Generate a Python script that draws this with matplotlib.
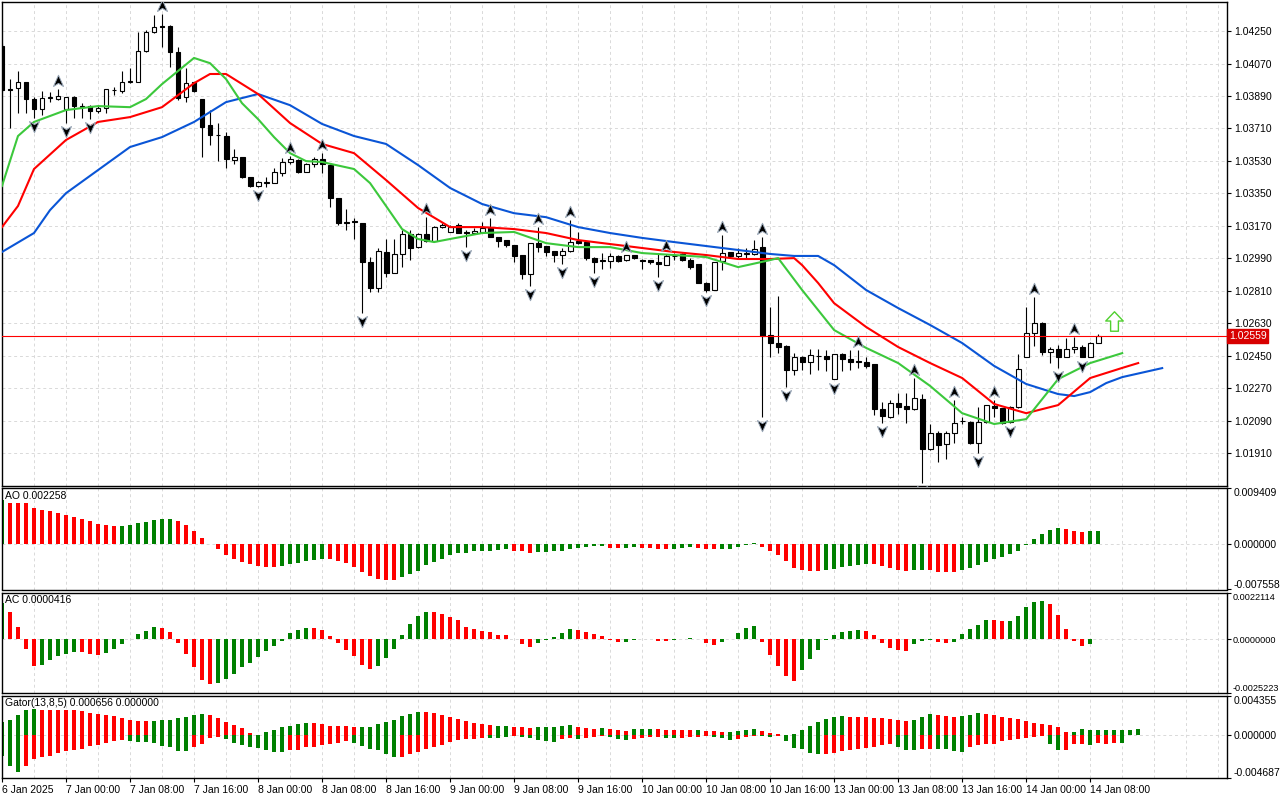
import numpy as np
import matplotlib.pyplot as plt
from matplotlib.path import Path

plt.rcParams['font.family'] = ['Liberation Sans', 'DejaVu Sans']

# EURUSD H1, 6 Jan 16:00 .. 14 Jan 09:00
opens = [1.04167, 1.03928, 1.03934, 1.03967, 1.03873, 1.03817, 1.03879, 1.03873, 1.03817, 1.03884,
         1.03834, 1.03834, 1.03806, 1.03823, 1.03921, 1.03917, 1.03967, 1.03967, 1.04139, 1.04244,
         1.04278, 1.04276, 1.04134, 1.03884, 1.03967, 1.03873, 1.03729, 1.03675, 1.03668, 1.03535,
         1.03551, 1.03440, 1.03390, 1.03407, 1.03407, 1.03462, 1.03524, 1.03535, 1.03468, 1.03513,
         1.03540, 1.03507, 1.03324, 1.03191, 1.03196, 1.03185, 1.02969, 1.02825, 1.03025, 1.02908,
         1.03014, 1.03125, 1.03053, 1.03125, 1.03086, 1.03163, 1.03136, 1.03174, 1.03136, 1.03130,
         1.03136, 1.03158, 1.03108, 1.03091, 1.03063, 1.03008, 1.02903, 1.03075, 1.03058, 1.03030,
         1.03008, 1.03030, 1.03086, 1.03080, 1.02991, 1.02980, 1.02975, 1.03002, 1.02980, 1.03008,
         1.02980, 1.02980, 1.02969, 1.02953, 1.03004, 1.03014, 1.02980, 1.02958, 1.02853, 1.02814,
         1.02975, 1.03025, 1.03002, 1.03014, 1.03014, 1.03052, 1.02564, 1.02520, 1.02503, 1.02370,
         1.02442, 1.02415, 1.02450, 1.02448, 1.02320, 1.02459, 1.02431, 1.02420, 1.02415, 1.02403,
         1.02154, 1.02110, 1.02187, 1.02171, 1.02154, 1.02209, 1.01932, 1.02021, 1.01960, 1.02021,
         1.02087, 1.02082, 1.01966, 1.02082, 1.02171, 1.02159, 1.02082, 1.02165, 1.02442, 1.02575,
         1.02631, 1.02470, 1.02486, 1.02442, 1.02486, 1.02498, 1.02442, 1.02520]
highs = [1.04183, 1.03984, 1.04028, 1.03970, 1.03884, 1.03917, 1.03912, 1.03928, 1.03886, 1.03890,
         1.03850, 1.03839, 1.03839, 1.03930, 1.03939, 1.04028, 1.04045, 1.04244, 1.04258, 1.04338,
         1.04344, 1.04283, 1.04161, 1.04045, 1.03970, 1.03876, 1.03812, 1.03740, 1.03690, 1.03596,
         1.03553, 1.03442, 1.03418, 1.03440, 1.03491, 1.03546, 1.03557, 1.03540, 1.03518, 1.03551,
         1.03573, 1.03513, 1.03326, 1.03263, 1.03213, 1.03187, 1.02997, 1.03047, 1.03097, 1.03097,
         1.03147, 1.03147, 1.03130, 1.03219, 1.03169, 1.03185, 1.03174, 1.03185, 1.03147, 1.03158,
         1.03191, 1.03213, 1.03110, 1.03093, 1.03065, 1.03010, 1.03077, 1.03163, 1.03060, 1.03032,
         1.03047, 1.03202, 1.03136, 1.03082, 1.02997, 1.03019, 1.03019, 1.03008, 1.03010, 1.03010,
         1.02986, 1.02982, 1.03019, 1.03014, 1.03019, 1.03019, 1.02991, 1.02960, 1.02858, 1.02971,
         1.03119, 1.03027, 1.03047, 1.03047, 1.03091, 1.03108, 1.02719, 1.02781, 1.02509, 1.02464,
         1.02448, 1.02486, 1.02486, 1.02481, 1.02461, 1.02464, 1.02481, 1.02481, 1.02442, 1.02405,
         1.02193, 1.02204, 1.02242, 1.02242, 1.02326, 1.02237, 1.02071, 1.02032, 1.02032, 1.02204,
         1.02110, 1.02087, 1.02165, 1.02178, 1.02204, 1.02161, 1.02171, 1.02459, 1.02719, 1.02775,
         1.02634, 1.02498, 1.02509, 1.02548, 1.02553, 1.02509, 1.02526, 1.02570]
lows = [1.03912, 1.03713, 1.03795, 1.03795, 1.03768, 1.03784, 1.03856, 1.03867, 1.03740, 1.03768,
        1.03768, 1.03762, 1.03795, 1.03795, 1.03895, 1.03906, 1.03961, 1.03965, 1.04135, 1.04238,
        1.04161, 1.04050, 1.03867, 1.03856, 1.03912, 1.03551, 1.03618, 1.03529, 1.03491, 1.03513,
        1.03435, 1.03385, 1.03385, 1.03385, 1.03405, 1.03446, 1.03513, 1.03462, 1.03466, 1.03496,
        1.03462, 1.03274, 1.03174, 1.03147, 1.03097, 1.02686, 1.02803, 1.02803, 1.02886, 1.02906,
        1.02942, 1.02980, 1.03045, 1.03080, 1.03080, 1.03158, 1.03134, 1.03130, 1.03052, 1.03125,
        1.03130, 1.03108, 1.03052, 1.03052, 1.02969, 1.02875, 1.02836, 1.03025, 1.03002, 1.02969,
        1.02958, 1.03025, 1.03069, 1.02980, 1.02908, 1.02930, 1.02936, 1.02969, 1.02975, 1.02986,
        1.02930, 1.02958, 1.02886, 1.02951, 1.02980, 1.02975, 1.02930, 1.02853, 1.02803, 1.02812,
        1.02925, 1.02991, 1.02991, 1.02991, 1.03008, 1.02110, 1.02442, 1.02464, 1.02276, 1.02342,
        1.02370, 1.02348, 1.02370, 1.02364, 1.02318, 1.02364, 1.02370, 1.02381, 1.02381, 1.02120,
        1.02076, 1.02104, 1.02126, 1.02076, 1.02148, 1.01743, 1.01927, 1.01860, 1.01877, 1.01966,
        1.02071, 1.01960, 1.01910, 1.02076, 1.02110, 1.02071, 1.02076, 1.02159, 1.02440, 1.02503,
        1.02453, 1.02409, 1.02381, 1.02440, 1.02464, 1.02440, 1.02440, 1.02518]
closes = [1.03923, 1.03925, 1.03967, 1.03873, 1.03817, 1.03879, 1.03884, 1.03890, 1.03884, 1.03834,
          1.03828, 1.03806, 1.03823, 1.03928, 1.03926, 1.03967, 1.03972, 1.04139, 1.04244, 1.04272,
          1.04275, 1.04134, 1.03879, 1.03961, 1.03917, 1.03718, 1.03673, 1.03671, 1.03540, 1.03551,
          1.03440, 1.03390, 1.03413, 1.03413, 1.03468, 1.03524, 1.03540, 1.03468, 1.03513, 1.03540,
          1.03513, 1.03324, 1.03185, 1.03185, 1.03191, 1.02969, 1.02825, 1.03030, 1.02908, 1.03014,
          1.03125, 1.03047, 1.03125, 1.03086, 1.03163, 1.03174, 1.03163, 1.03130, 1.03128, 1.03141,
          1.03158, 1.03108, 1.03086, 1.03063, 1.03002, 1.02903, 1.03075, 1.03052, 1.03025, 1.03008,
          1.03030, 1.03080, 1.03075, 1.02991, 1.02969, 1.02975, 1.03002, 1.02975, 1.03008, 1.02991,
          1.02977, 1.02969, 1.02958, 1.03002, 1.03000, 1.02980, 1.02942, 1.02853, 1.02814, 1.02969,
          1.03019, 1.03002, 1.03019, 1.03021, 1.03041, 1.02559, 1.02520, 1.02498, 1.02370, 1.02442,
          1.02415, 1.02453, 1.02446, 1.02431, 1.02459, 1.02431, 1.02415, 1.02413, 1.02392, 1.02154,
          1.02115, 1.02187, 1.02165, 1.02154, 1.02215, 1.01932, 1.02021, 1.01955, 1.02021, 1.02076,
          1.02085, 1.01966, 1.02082, 1.02176, 1.02159, 1.02076, 1.02165, 1.02376, 1.02575, 1.02631,
          1.02470, 1.02486, 1.02442, 1.02486, 1.02498, 1.02442, 1.02520, 1.02559]

# alligator lines (already shifted forward), read every few bars
jaw_bars = [0, 4, 6, 8, 12, 16, 20, 24, 28, 32, 36, 40, 44, 48, 52, 56, 60, 64, 68, 72, 76,
            80, 84, 88, 92, 96, 99, 102, 104, 108, 112, 116, 120, 124, 128, 132, 134, 136, 138, 140, 145]
jaw_vals = [1.03025, 1.03130, 1.03257, 1.03351, 1.03479, 1.03607, 1.03662, 1.03746, 1.03856, 1.03901,
            1.03839, 1.03735, 1.03668, 1.03624, 1.03507, 1.03380, 1.03291, 1.03240, 1.03218, 1.03163,
            1.03130, 1.03103, 1.03080, 1.03058, 1.03036, 1.03014, 1.03003, 1.03003, 1.02952, 1.02814,
            1.02714, 1.02620, 1.02520, 1.02393, 1.02293, 1.02237, 1.02226, 1.02248, 1.02298, 1.02331, 1.02381]
teeth_bars = [0, 2, 4, 8, 12, 16, 20, 24, 26, 28, 32, 36, 40, 44, 48, 52, 56, 60, 64, 68, 72,
              76, 80, 84, 88, 92, 96, 99, 100, 102, 104, 108, 112, 116, 120, 124, 128, 132, 136, 140, 142]
teeth_vals = [1.03163, 1.03280, 1.03485, 1.03646, 1.03746, 1.03773, 1.03828, 1.03961, 1.04012, 1.04012,
              1.03901, 1.03740, 1.03624, 1.03573, 1.03424, 1.03269, 1.03163, 1.03163, 1.03152, 1.03130,
              1.03091, 1.03069, 1.03047, 1.03025, 1.03008, 1.02986, 1.02986, 1.02991, 1.02952, 1.02853,
              1.02741, 1.02609, 1.02498, 1.02409, 1.02326, 1.02182, 1.02131, 1.02176, 1.02326, 1.02382, 1.02409]
lips_bars = [0, 2, 4, 8, 12, 16, 18, 20, 24, 26, 28, 30, 32, 34, 36, 38, 40, 44, 46, 48, 50, 52, 54,
             56, 60, 64, 68, 72, 76, 80, 84, 88, 92, 96, 97, 100, 104, 108, 112, 116, 120, 124, 128,
             132, 136, 140]
lips_vals = [1.03391, 1.03668, 1.03746, 1.03812, 1.03834, 1.03828, 1.03873, 1.03956, 1.04101, 1.04072,
             1.03984, 1.03850, 1.03762, 1.03662, 1.03573, 1.03529, 1.03524, 1.03485, 1.03407, 1.03280,
             1.03152, 1.03097, 1.03080, 1.03097, 1.03130, 1.03136, 1.03074, 1.03052, 1.03052, 1.03019,
             1.03008, 1.02997, 1.02941, 1.02980, 1.02991, 1.02814, 1.02592, 1.02493, 1.02409, 1.02282,
             1.02131, 1.02071, 1.02098, 1.02320, 1.02409, 1.02464]

fractal_up = [7, 20, 36, 40, 53, 61, 67, 71, 78, 83, 90, 95, 107, 114, 119, 124, 129, 134]
fractal_down = [4, 8, 11, 32, 45, 58, 66, 70, 74, 82, 88, 95, 98, 104, 110, 115, 122, 126, 132, 135]
signal_bar, signal_price = 139, 1.02645
last_price = 1.02559

price_ticks = [1.04250, 1.04070, 1.03890, 1.03710, 1.03530, 1.03350, 1.03170,
               1.02990, 1.02810, 1.02630, 1.02450, 1.02270, 1.02090, 1.01910]

ao = [0.00743, 0.00698, 0.00696, 0.00695, 0.00599, 0.00566, 0.00549, 0.00516, 0.00483, 0.00450,
      0.00417, 0.00384, 0.00335, 0.00318, 0.00302, 0.00304, 0.00318, 0.00351, 0.00368, 0.00401,
      0.00417, 0.00419, 0.00384, 0.00318, 0.00219, 0.00104, 0.00012, -0.00083, -0.00177, -0.00252,
      -0.00292, -0.00335, -0.00368, -0.00384, -0.00386, -0.00368, -0.00335, -0.00318, -0.00285, -0.00269,
      -0.00252, -0.00254, -0.00285, -0.00318, -0.00384, -0.00467, -0.00533, -0.00582, -0.00599, -0.00601,
      -0.00549, -0.00500, -0.00450, -0.00351, -0.00302, -0.00252, -0.00186, -0.00153, -0.00152, -0.00120,
      -0.00119, -0.00104, -0.00102, -0.00087, -0.00104, -0.00120, -0.00153, -0.00137, -0.00135, -0.00120,
      -0.00104, -0.00071, -0.00054, -0.00038, -0.00037, -0.00036, -0.00054, -0.00056, -0.00054, -0.00053,
      -0.00054, -0.00056, -0.00071, -0.00073, -0.00071, -0.00054, -0.00053, -0.00054, -0.00071, -0.00087,
      -0.00086, -0.00071, -0.00038, -0.00012, 0.00017, -0.00038, -0.00104, -0.00186, -0.00285, -0.00401,
      -0.00434, -0.00450, -0.00452, -0.00434, -0.00417, -0.00384, -0.00368, -0.00351, -0.00335, -0.00337,
      -0.00368, -0.00401, -0.00434, -0.00450, -0.00434, -0.00432, -0.00434, -0.00467, -0.00469, -0.00470,
      -0.00434, -0.00401, -0.00351, -0.00302, -0.00252, -0.00219, -0.00170, -0.00104, -0.00012, 0.00094,
      0.00170, 0.00243, 0.00269, 0.00259, 0.00226, 0.00210, 0.00218, 0.002258]
ac = [0.00172, 0.00128, 0.000577, -0.000469, -0.00125, -0.00121, -0.000971, -0.000783, -0.000689, -0.000596,
      -0.000600, -0.000689, -0.000736, -0.000643, -0.000455, -0.000220, 0.000014, 0.000249, 0.000389, 0.000577,
      0.000530, 0.000342, -0.000155, -0.000689, -0.00130, -0.00191, -0.00210, -0.00205, -0.00186, -0.00163,
      -0.00130, -0.00111, -0.000830, -0.000549, -0.000314, -0.000080, 0.000295, 0.000436, 0.000530, 0.000525,
      0.000436, 0.000155, -0.000155, -0.000502, -0.000783, -0.00121, -0.00139, -0.00125, -0.000877, -0.000455,
      0.000202, 0.000718, 0.00109, 0.00128, 0.00127, 0.00119, 0.00105, 0.000905, 0.000577, 0.000483,
      0.000389, 0.000342, 0.000202, 0.000197, 0.000010, -0.000202, -0.000342, -0.000155, -0.000033, 0.000108,
      0.000295, 0.000483, 0.000436, 0.000342, 0.000249, 0.000155, -0.000014, -0.000108, -0.000103, -0.000014,
      0.000009, 0.000005, -0.000061, -0.000066, -0.000014, 0.000033, 0.000047, 0.000014, -0.000155, -0.000267,
      -0.000108, 0.000033, 0.000295, 0.000530, 0.000624, -0.000108, -0.000718, -0.00125, -0.00172, -0.00196,
      -0.00144, -0.000924, -0.000502, -0.000014, 0.000202, 0.000342, 0.000389, 0.000436, 0.000389, 0.000202,
      -0.000155, -0.000408, -0.000502, -0.000549, -0.000220, -0.000061, -0.000014, -0.000108, -0.000155, -0.000108,
      0.000249, 0.000483, 0.000671, 0.000905, 0.000900, 0.000858, 0.000863, 0.00109, 0.00151, 0.00175,
      0.00180, 0.00166, 0.00114, 0.000483, -0.000061, -0.000295, -0.000202, 0.0000416]

gator_up = [0.00143, 0.00169, 0.00224, 0.00279, 0.00290, 0.00279, 0.00278, 0.00277, 0.00276, 0.00275,
            0.00261, 0.00246, 0.00235, 0.00224, 0.00213, 0.00191, 0.00169, 0.00158, 0.00157, 0.00158,
            0.00169, 0.00170, 0.00191, 0.00202, 0.00224, 0.00235, 0.00224, 0.00191, 0.00147, 0.00114,
            0.00074, 0.00025, 0.00003, 0.00030, 0.00058, 0.00085, 0.00103, 0.00125, 0.00136, 0.00135,
            0.00125, 0.00103, 0.00102, 0.00100, 0.00092, 0.00093, 0.00094, 0.00125, 0.00147, 0.00169,
            0.00213, 0.00235, 0.00257, 0.00256, 0.00246, 0.00224, 0.00202, 0.00180, 0.00158, 0.00136,
            0.00125, 0.00114, 0.00103, 0.00099, 0.00092, 0.00090, 0.00074, 0.00085, 0.00092, 0.00093,
            0.00103, 0.00114, 0.00092, 0.00081, 0.00069, 0.00081, 0.00069, 0.00058, 0.00047, 0.00069,
            0.00071, 0.00072, 0.00069, 0.00058, 0.00057, 0.00056, 0.00055, 0.00056, 0.00047, 0.00041,
            0.00030, 0.00036, 0.00047, 0.00058, 0.00069, 0.00047, 0.00025, 0.00014, 0.00008, 0.00009,
            0.00058, 0.00103, 0.00147, 0.00180, 0.00202, 0.00213, 0.00202, 0.00201, 0.00200, 0.00191,
            0.00190, 0.00180, 0.00169, 0.00158, 0.00169, 0.00202, 0.00228, 0.00224, 0.00213, 0.00202,
            0.00213, 0.00224, 0.00246, 0.00235, 0.00224, 0.00202, 0.00191, 0.00180, 0.00158, 0.00136,
            0.00125, 0.00114, 0.00085, 0.00030, 0.00036, 0.00069, 0.00058, 0.00052, 0.00055, 0.00057,
            0.00058, 0.00061, 0.000656]
gator_down = [-0.00224, -0.00334, -0.00400, -0.00334, -0.00261, -0.00243, -0.00228, -0.00195, -0.00173, -0.00162,
              -0.00151, -0.00118, -0.00107, -0.00081, -0.00066, -0.00052, -0.00058, -0.00074, -0.00077, -0.00088,
              -0.00114, -0.00132, -0.00169, -0.00170, -0.00125, -0.00096, -0.00033, -0.00019, -0.00036, -0.00085,
              -0.00103, -0.00129, -0.00136, -0.00158, -0.00180, -0.00181, -0.00158, -0.00157, -0.00125, -0.00124,
              -0.00103, -0.00092, -0.00081, -0.00063, -0.00088, -0.00121, -0.00151, -0.00162, -0.00206, -0.00235,
              -0.00234, -0.00206, -0.00184, -0.00147, -0.00125, -0.00107, -0.00069, -0.00047, -0.00046, -0.00036,
              -0.00025, -0.00026, -0.00028, -0.00014, -0.00003, -0.00014, -0.00025, -0.00047, -0.00058, -0.00069,
              -0.00036, -0.00035, -0.00036, -0.00025, -0.00024, -0.00011, -0.00014, -0.00036, -0.00047, -0.00036,
              -0.00025, -0.00024, -0.00023, -0.00025, -0.00026, -0.00025, -0.00024, -0.00014, -0.00003, -0.00014,
              -0.00025, -0.00047, -0.00046, -0.00014, -0.00003, -0.00004, -0.00014, -0.00013, -0.00058, -0.00136,
              -0.00147, -0.00191, -0.00202, -0.00201, -0.00191, -0.00169, -0.00158, -0.00147, -0.00136, -0.00125,
              -0.00103, -0.00101, -0.00125, -0.00158, -0.00159, -0.00147, -0.00146, -0.00147, -0.00148, -0.00169,
              -0.00180, -0.00125, -0.00103, -0.00101, -0.00092, -0.00058, -0.00052, -0.00036, -0.00025, -0.00014,
              -0.00013, -0.00092, -0.00158, -0.00157, -0.00092, -0.00093, -0.00103, -0.00081, -0.00092, -0.00085,
              -0.00085]
# gator bar colours as (colour, run length)
gator_up_runs = [("g", 5), ("r", 14), ("g", 7), ("r", 6), ("g", 7), ("r", 6), ("g", 8), ("r", 9), ("g", 2),
                 ("r", 3), ("g", 5), ("r", 3), ("g", 1), ("r", 3), ("g", 3), ("r", 5), ("g", 1), ("r", 3),
                 ("g", 4), ("r", 4), ("g", 7), ("r", 8), ("g", 3), ("r", 3), ("g", 3), ("r", 11), ("g", 9)]
gator_down_runs = [("g", 3), ("r", 13), ("g", 8), ("r", 4), ("g", 8), ("r", 8), ("g", 6), ("r", 11), ("g", 3),
                   ("r", 1), ("g", 5), ("r", 2), ("g", 1), ("r", 3), ("g", 3), ("r", 4), ("g", 2), ("r", 4),
                   ("g", 3), ("r", 3), ("g", 2), ("r", 1), ("g", 5), ("r", 9), ("g", 3), ("r", 2), ("g", 4),
                   ("r", 10), ("g", 2), ("r", 3), ("g", 1), ("r", 3), ("g", 1)]

time_labels = ["6 Jan 2025", "7 Jan 00:00", "7 Jan 08:00", "7 Jan 16:00", "8 Jan 00:00", "8 Jan 08:00",
               "8 Jan 16:00", "9 Jan 00:00", "9 Jan 08:00", "9 Jan 16:00", "10 Jan 00:00", "10 Jan 08:00",
               "10 Jan 16:00", "13 Jan 00:00", "13 Jan 08:00", "13 Jan 16:00", "14 Jan 00:00", "14 Jan 08:00"]

GREEN, RED = '#008000', '#ff0000'


def runs_to_colors(runs):
    out = []
    for c, n in runs:
        out += [GREEN if c == "g" else RED] * n
    return out


def trend_colors(vals):
    cols = [GREEN]
    for i in range(1, len(vals)):
        cols.append(GREEN if vals[i] > vals[i - 1] else RED)
    return cols


fig = plt.figure(figsize=(12.8, 8), dpi=100)


def panel(top, bottom):
    return fig.add_axes([1.5 / 1280, 1 - bottom / 800, 1225.5 / 1280, (bottom - top) / 800])


ax = panel(1.5, 485.5)
ax_ao = panel(488, 589.5)
ax_ac = panel(592.5, 693)
ax_g = panel(695.5, 778)

major = list(range(0, 137, 8))
minor = [k for k in range(0, 154, 4) if k not in major]
for a in (ax, ax_ao, ax_ac, ax_g):
    a.set_xlim(-0.06, 153.1)
    a.set_xticks(major)
    a.set_xticks(minor, minor=True)
    a.grid(axis='x', which='both', color='#d9d9d9', linestyle=(0, (3, 3)), linewidth=0.7)
    a.tick_params(axis='x', which='both', length=0, labelbottom=False)
    a.yaxis.tick_right()
    a.tick_params(axis='y', direction='out', length=3, width=0.8, labelsize=7.5, pad=2)
    for s in a.spines.values():
        s.set_linewidth(1.0)
    a.set_axisbelow(True)

# ---- price panel ----
x = np.arange(len(opens))
o, h, l, c = map(np.array, (opens, highs, lows, closes))
ax.vlines(x, l, h, color='black', linewidth=0.8, zorder=2)
body_lo = np.minimum(o, c)
body_h = np.maximum(np.abs(c - o), 0.00002)
ax.bar(x, body_h, bottom=body_lo, width=0.62,
       color=np.where(c >= o, 'white', 'black'), edgecolor='black', linewidth=0.8, zorder=3)

ax.plot(jaw_bars, jaw_vals, color='#0a55d6', linewidth=1.5, zorder=4)
ax.plot(teeth_bars, teeth_vals, color='#ff0000', linewidth=1.5, zorder=4)
ax.plot(lips_bars, lips_vals, color='#3cc83c', linewidth=1.5, zorder=4)

codes = [Path.MOVETO, Path.LINETO, Path.LINETO, Path.LINETO, Path.CLOSEPOLY]
up_mark = Path([(0, 1), (0.8, -0.8), (0, -0.3), (-0.8, -0.8), (0, 1)], codes)
down_mark = Path([(0, -1), (0.8, 0.8), (0, 0.3), (-0.8, 0.8), (0, -1)], codes)
gap = 0.00045
ax.plot(fractal_up, h[fractal_up] + gap, ls='none', marker=up_mark, ms=9,
        mfc='black', mec='#9aa8b8', mew=0.7, zorder=5)
ax.plot(fractal_down, l[fractal_down] - gap, ls='none', marker=down_mark, ms=9,
        mfc='black', mec='#9aa8b8', mew=0.7, zorder=5)

arrow = Path([(0, 1), (0.9, 0.05), (0.4, 0.05), (0.4, -1), (-0.4, -1), (-0.4, 0.05), (-0.9, 0.05), (0, 1)],
             [Path.MOVETO] + [Path.LINETO] * 6 + [Path.CLOSEPOLY])
ax.plot([signal_bar], [signal_price], marker=arrow, ms=14, mfc='white', mec='#50d030', mew=1.0, zorder=5)

ax.axhline(last_price, color='#ff0000', linewidth=0.8, zorder=4)
ax.set_ylim(1.01730, 1.04414)
ax.set_yticks(price_ticks, labels=['%.5f' % p for p in price_ticks])
ax.grid(axis='y', color='#d9d9d9', linestyle=(0, (3, 3)), linewidth=0.7)
ax.text(1.0015, last_price, '%.5f' % last_price, transform=ax.get_yaxis_transform(),
        ha='left', va='center', fontsize=7.5, color='white', clip_on=False, zorder=10,
        bbox=dict(boxstyle='square,pad=0.18', fc='#d80000', ec='#d80000'))


def sub_axis(a, lo, hi, fmt, label, size=7.5, pad=2):
    a.set_ylim(lo, hi)
    a.set_yticks([lo, 0, hi], labels=[fmt % lo, fmt % 0, fmt % hi])
    a.tick_params(axis='y', labelsize=size, pad=pad)
    tl = a.get_yticklabels()
    tl[0].set_va('bottom')
    tl[2].set_va('top')
    a.axhline(0, color='#d9d9d9', linestyle=(0, (3, 3)), linewidth=0.7, zorder=1)
    a.text(0.003, 0.975, label, transform=a.transAxes, ha='left', va='top', fontsize=7.5)


# ---- AO ----
xa = np.arange(len(ao))
ax_ao.bar(xa, ao, width=0.5, color=trend_colors(ao), linewidth=0, zorder=2)
sub_axis(ax_ao, -0.007558, 0.009409, '%.6f', 'AO %.6f' % ao[-1])

# ---- AC ----
ax_ac.bar(xa, ac, width=0.5, color=trend_colors(ac), linewidth=0, zorder=2)
sub_axis(ax_ac, -0.0025223, 0.0022114, '%.7f', 'AC %.7f' % ac[-1], size=6.6, pad=1)

# ---- Gator ----
ax_g.bar(np.arange(len(gator_up)), gator_up, width=0.55, color=runs_to_colors(gator_up_runs),
         linewidth=0, zorder=2)
ax_g.bar(np.arange(len(gator_down)), gator_down, width=0.55, color=runs_to_colors(gator_down_runs),
         linewidth=0, zorder=2)
sub_axis(ax_g, -0.004687, 0.004355, '%.6f', 'Gator(13,8,5) %.6f %.6f' % (gator_up[-1], 0.0))

ax_g.set_xticks(major, labels=time_labels)
ax_g.tick_params(axis='x', which='major', length=3, width=0.8, direction='out',
                 labelbottom=True, labelsize=7.5, pad=2)
for lbl in ax_g.get_xticklabels():
    lbl.set_ha('left')

fig.savefig('out.png', dpi=100, facecolor='white')
